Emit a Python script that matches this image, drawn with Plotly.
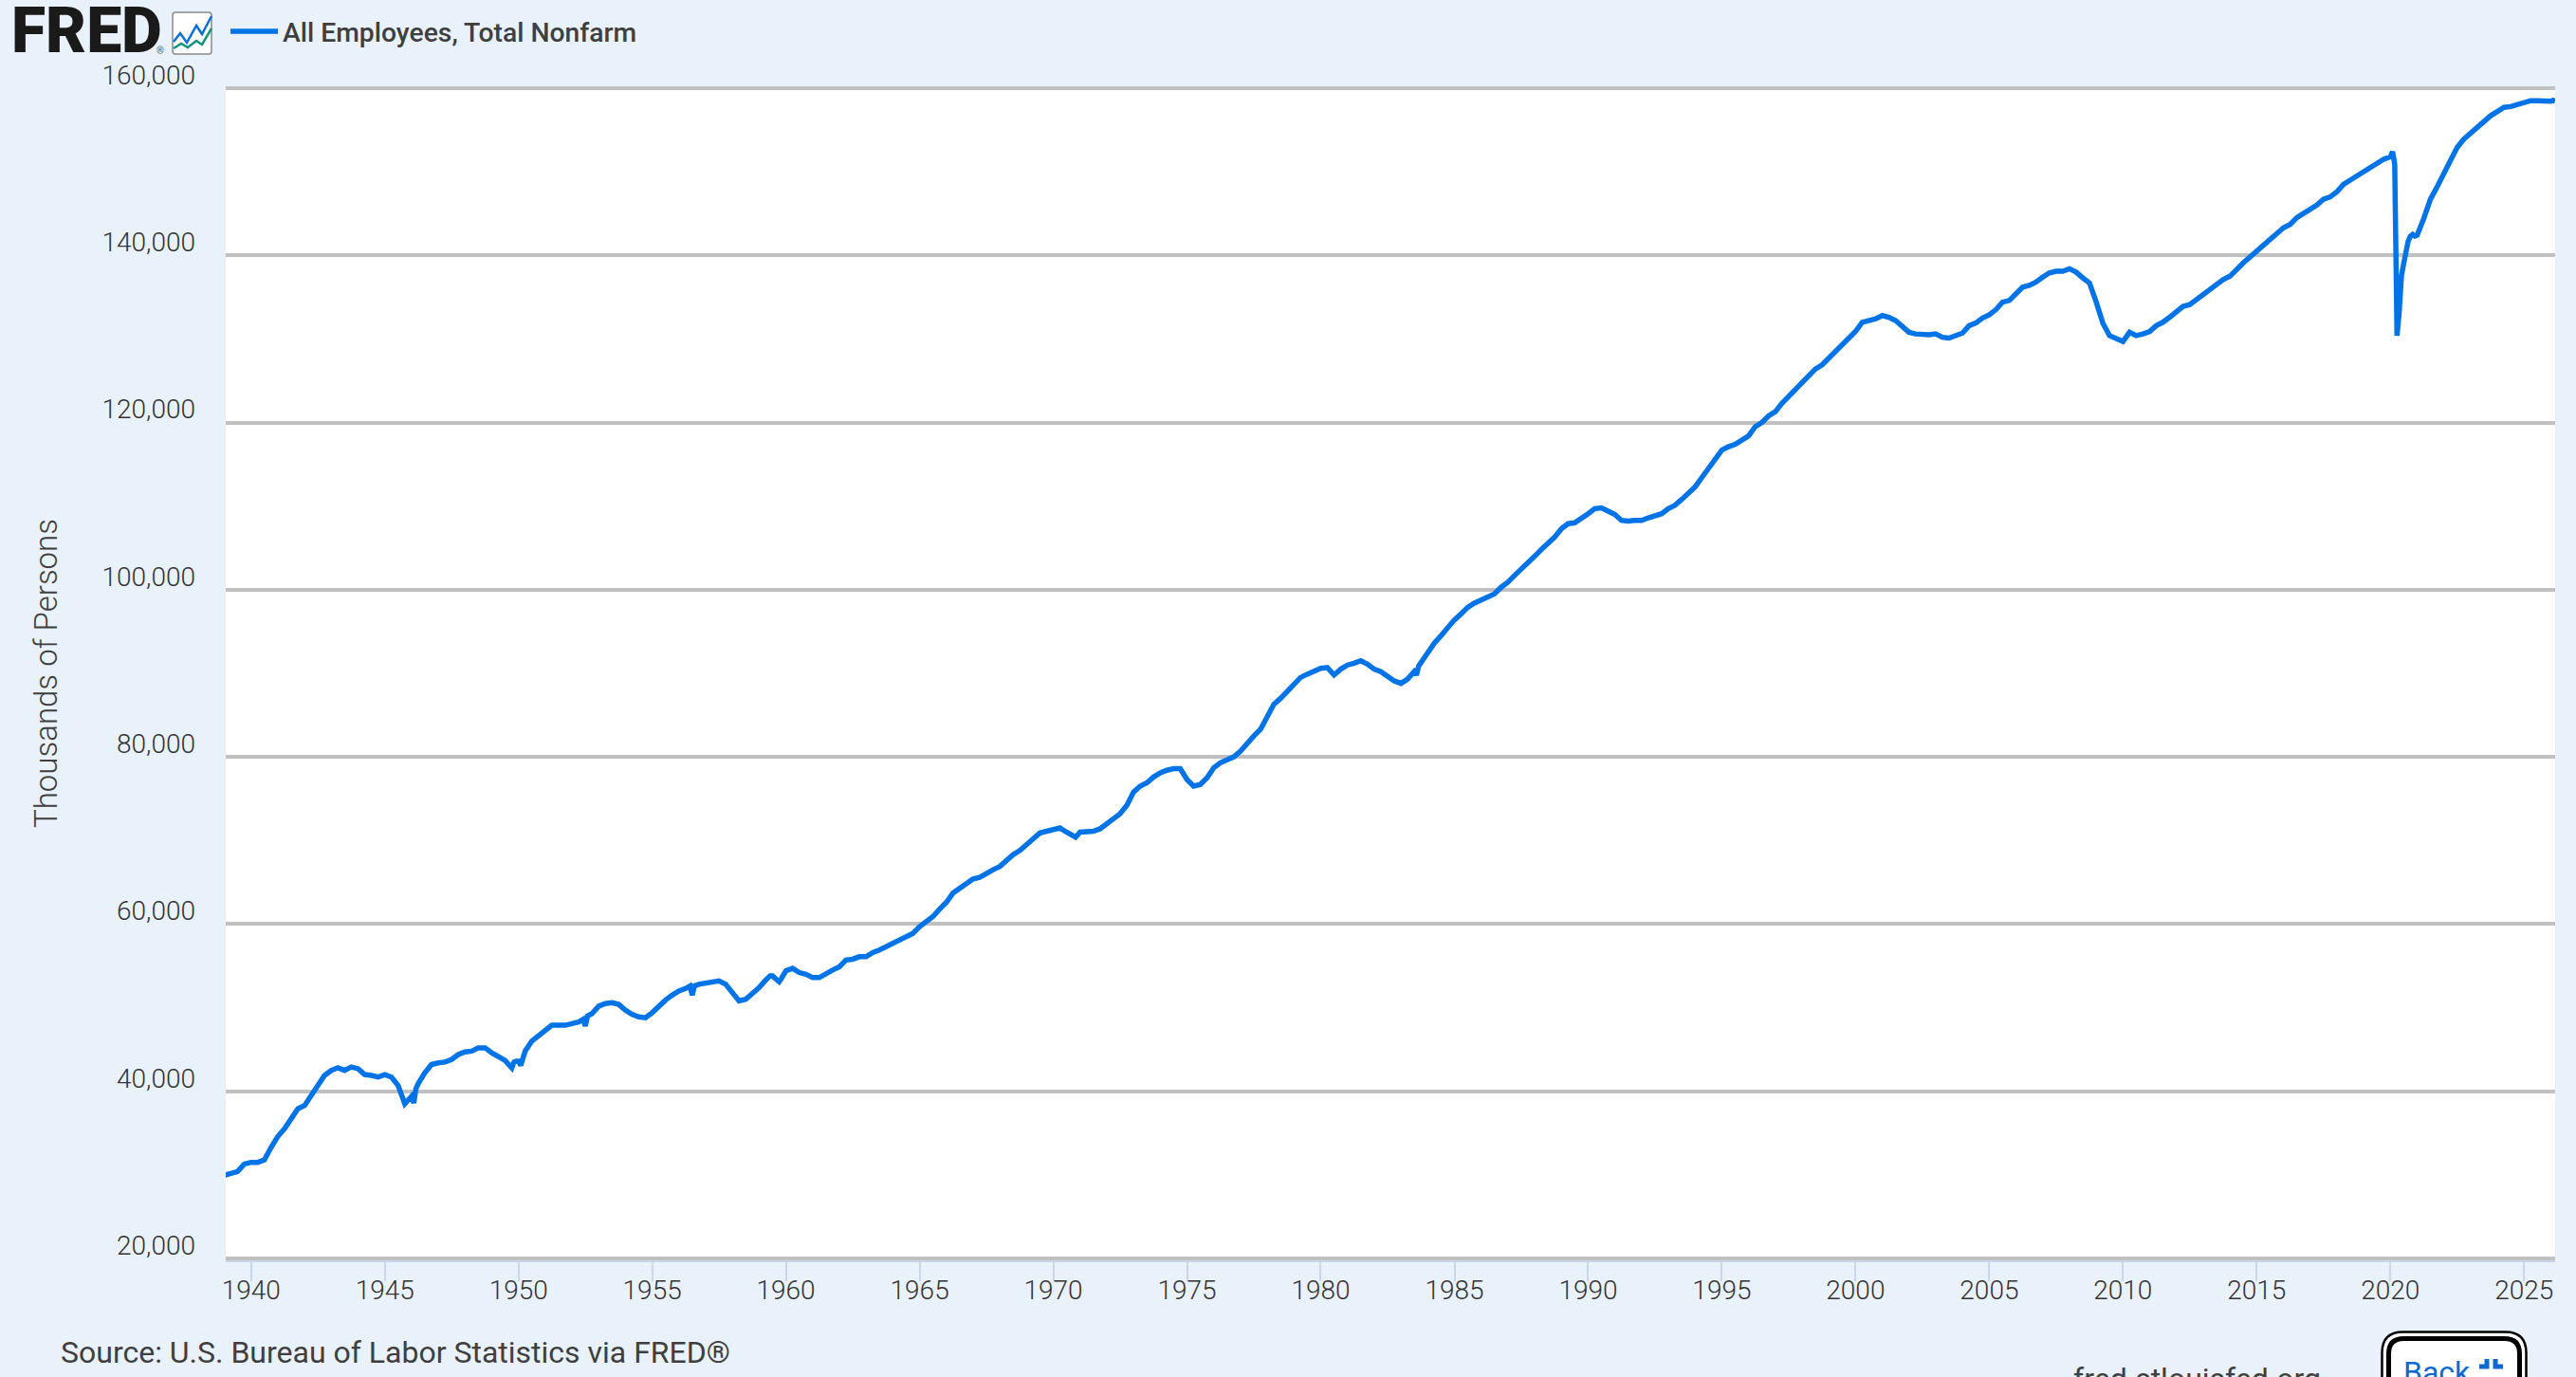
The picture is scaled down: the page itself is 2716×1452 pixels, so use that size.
import plotly.graph_objects as go

SERIES_NAME = "All Employees, Total Nonfarm"
Y_TITLE = "Thousands of Persons"
SOURCE = "Source: U.S. Bureau of Labor Statistics via FRED®"

first_year = 1939
# Thousands of persons, read at Jan, Apr, Jul, Oct of each year
quarterly_values = [
    29950, 30150, 30400, 31300,   # 1939
    31500, 31500, 31800, 33300,
    34600, 35500, 36700, 37900,
    38300, 39500, 40900, 41900,
    42500, 42800, 42500, 42900,
    42700, 42000, 41900, 41700,
    42000, 41700, 40700, 38500,
    39400, 40900, 42200, 43200,
    43400, 43500, 43800, 44400,
    44700, 44800, 45200, 45200,
    44600, 44100, 43700, 42800,   # 1949
    43600, 44800, 46000, 46700,
    47200, 47900, 47900, 47900,
    48100, 48300, 47800, 49300,
    50200, 50500, 50600, 50400,
    49700, 49200, 48900, 48800,
    49400, 50200, 50900, 51500,
    52000, 52300, 51500, 52800,
    52900, 53100, 53200, 52800,
    51900, 50800, 51000, 51700,
    52400, 53300, 53800, 53100,   # 1959
    54400, 54700, 54200, 54000,
    53600, 53600, 54100, 54500,
    54900, 55700, 55800, 56100,
    56100, 56600, 56900, 57300,
    57600, 58000, 58400, 58900,
    59700, 60300, 60900, 61800,
    62600, 63700, 64300, 64900,
    65400, 65600, 66100, 66500,
    66900, 67700, 68300, 68800,
    69600, 70200, 70900, 71100,   # 1969
    71300, 71500, 71000, 70600,
    71000, 71000, 71100, 71400,
    72000, 72700, 73200, 74200,
    75800, 76500, 76900, 77600,
    78100, 78400, 78600, 78600,
    77300, 76500, 76700, 77500,
    78700, 79300, 79600, 80000,
    80700, 81700, 82500, 83300,
    84800, 86300, 87000, 87900,
    88700, 89500, 89900, 90300,   # 1979
    90600, 90700, 89800, 90500,
    91000, 91200, 91500, 91100,
    90500, 90200, 89700, 89100,
    88800, 89300, 90200, 91300,
    92500, 93600, 94500, 95500,
    96400, 97100, 97900, 98400,
    98800, 99200, 99500, 100300,
    100900, 101700, 102400, 103100,
    104000, 104800, 105500, 106300,
    107300, 107900, 108000, 108500,   # 1989
    109100, 109700, 109800, 109400,
    109000, 108300, 108200, 108300,
    108300, 108600, 108800, 109100,
    109700, 110100, 110800, 111500,
    112300, 113400, 114500, 115500,
    116700, 117100, 117400, 117900,
    118400, 119500, 120000, 120800,
    121300, 122300, 123100, 124100,
    124900, 125500, 126400, 126900,
    127700, 128600, 129300, 130200,   # 1999
    130900, 132000, 132200, 132400,
    132800, 132600, 132200, 131400,
    130800, 130600, 130500, 130500,
    130600, 130200, 130100, 130400,
    130700, 131600, 131900, 132500,
    132900, 133500, 134400, 134600,
    135500, 136200, 136400, 136800,
    137400, 137900, 138100, 138100,
    138400, 138000, 137300, 136700,
    134400, 131900, 130400, 130000,   # 2009
    129700, 130800, 130400, 130600,
    130900, 131600, 132000, 132600,
    133300, 133900, 134100, 134700,
    135300, 136000, 136500, 137100,
    137500, 138400, 139100, 139800,
    140500, 141200, 141900, 142500,
    143300, 143700, 144500, 145000,
    145500, 146000, 146700, 147000,
    147600, 148500, 149000, 149500,
    149900, 150400, 150900, 151500,   # 2019
    151800, 130400, 139000, 142300,
    142400, 144400, 146700, 148200,
    149700, 151400, 152900, 153900,
    154600, 155400, 156100, 156700,
    157200, 157700, 157800, 158000,
    158300, 158500, 158500, 158400,
    158450,                            # 2026
]

# Single months that stand out from the quarterly reading (strikes, the 2020 drop)
extra_months = ["1945-09", "1946-02", "1946-03", "1949-11", "1949-12", "1950-02",
                "1952-06", "1952-08", "1956-06", "1956-08", "1959-06", "1959-11",
                "1970-11", "1983-08", "1983-09",
                "2020-02", "2020-03", "2020-05", "2020-06", "2020-08", "2020-09",
                "2020-11", "2020-12", "2026-02", "2026-03"]
extra_values = [39400, 38600, 40300, 43500, 43600, 43100,
                48600, 49000, 52600, 52600, 53800, 53500,
                70400, 89800, 90900,
                152400, 150900, 133200, 137600, 140800, 141700,
                142500, 142300, 158550, 158400]

y_ticks = [20000, 40000, 60000, 80000, 100000, 120000, 140000, 160000]

quarter_months = [f"{first_year + i // 4}-{[1, 4, 7, 10][i % 4]:02d}" for i in range(len(quarterly_values))]
points = sorted(list(zip(quarter_months, quarterly_values)) + list(zip(extra_months, extra_values)))
months = [p[0] + "-01" for p in points]
values = [p[1] for p in points]

W, H = 2716, 1452
L, R, T, B = 238, 2694, 91, 1329
PAPER = "#e9f1fb"
TEXT = "#3f3f3f"
TICK_TEXT = "#333333"
BLUE = "#0073e6"


def px(x):
    return (x - L) / (R - L)


def py(y):
    return (B - y) / (B - T)


def path(points_, close=False):
    s = "M " + " L ".join(f"{px(a):.5f},{py(b):.5f}" for a, b in points_)
    return s + (" Z" if close else "")


def rounded(x0, y0, x1, y1, r):
    return (f"M {px(x0 + r):.5f},{py(y0):.5f} L {px(x1 - r):.5f},{py(y0):.5f} "
            f"Q {px(x1):.5f},{py(y0):.5f} {px(x1):.5f},{py(y0 + r):.5f} "
            f"L {px(x1):.5f},{py(y1 - r):.5f} Q {px(x1):.5f},{py(y1):.5f} {px(x1 - r):.5f},{py(y1):.5f} "
            f"L {px(x0 + r):.5f},{py(y1):.5f} Q {px(x0):.5f},{py(y1):.5f} {px(x0):.5f},{py(y1 - r):.5f} "
            f"L {px(x0):.5f},{py(y0 + r):.5f} Q {px(x0):.5f},{py(y0):.5f} {px(x0 + r):.5f},{py(y0):.5f} Z")


def shape_path(d, line=None, width=0, fill=None):
    return dict(type="path", xref="paper", yref="paper", path=d,
                line=dict(color=line or "rgba(0,0,0,0)", width=width),
                fillcolor=fill or "rgba(0,0,0,0)", layer="above")


def note(text, x, y, size, color=TEXT, xanchor="left", weight=400, family="Roboto"):
    return dict(text=text, x=px(x), y=py(y), xref="paper", yref="paper", xanchor=xanchor,
                yanchor="middle", showarrow=False, align="left",
                font=dict(family=family, size=size, color=color, weight=weight))


shapes = [
    # FRED graph icon
    shape_path(rounded(182, 13, 223, 57, 3), line="#8a8a8a", width=1.5, fill="#ffffff"),
    shape_path(path([(183, 44), (190, 35), (197, 45), (207, 27), (213, 36), (223, 17)]), line="#0a6fd6", width=2.5),
    shape_path(path([(183, 51), (191, 46), (198, 50), (207, 43), (213, 47), (223, 30)]), line="#12947f", width=2.5),
    # Back button
    shape_path(rounded(2511.5, 1404.5, 2663.5, 1490, 22), line="#000000", width=2.5, fill="#ffffff"),
    shape_path(rounded(2518.5, 1411.5, 2656.5, 1490, 16), line="#000000", width=5, fill="#ffffff"),
    shape_path(path([(2622, 1433), (2622, 1441), (2614, 1441)]), line="#0a6ad0", width=5),
    shape_path(path([(2631, 1433), (2631, 1441), (2639, 1441)]), line="#0a6ad0", width=5),
]

annotations = [
    note("FRED", 10, 33, 66, color="#1a1a1a", weight=900),
    note("®", 163, 54, 10, color="#555555"),
    note(SOURCE, 62, 1426, 32),
    note("fred.stlouisfed.org", 2184, 1454, 32),
    note("Back", 2532, 1447, 32, color="#0a6ad0"),
]

fig = go.Figure(go.Scatter(
    x=months, y=values, mode="lines", name=SERIES_NAME,
    line=dict(color=BLUE, width=5.5),
    hovertemplate="%{x|%b %Y}: %{y:,}<extra></extra>",
))

# Two pixels of padding keep the 20,000 and 160,000 gridlines inside the axis range
y_pad = 2 * 140000 / 1234

fig.update_layout(
    width=W, height=H,
    margin=dict(l=L, r=W - R, t=T, b=H - B, pad=0, autoexpand=False),
    paper_bgcolor=PAPER, plot_bgcolor="#ffffff",
    font=dict(family="Roboto", color=TEXT, size=28),
    showlegend=True,
    legend=dict(orientation="h", x=0.0, xanchor="left", y=py(33), yanchor="middle",
                bgcolor="rgba(0,0,0,0)", itemwidth=50,
                font=dict(family="Roboto", size=28.3, color=TEXT, weight=500)),
    shapes=shapes, annotations=annotations,
    xaxis=dict(
        type="date", range=["1939-01-20", "2026-03-01"], tick0="1940-01-01", dtick="M60",
        tickformat="%Y", ticks="outside", ticklen=20, tickwidth=2, tickcolor="#ccd6eb",
        showgrid=False, showline=True, linecolor="#ccd6eb", linewidth=2, zeroline=False,
        ticklabelstandoff=-15,
        tickfont=dict(family="Roboto", size=28, color=TICK_TEXT, weight=300),
    ),
    yaxis=dict(
        range=[20000 - y_pad, 160000 + y_pad], tickmode="array", tickvals=y_ticks, tickformat=",d",
        showgrid=True, gridcolor="#c0c0c0", gridwidth=4, zeroline=False, showline=False,
        ticks="", ticklabelstandoff=31, ticklabelshift=-14,
        tickfont=dict(family="Roboto", size=28, color=TICK_TEXT, weight=300),
        title=dict(text=Y_TITLE, font=dict(family="Roboto", size=33, color=TEXT, weight=300), standoff=36),
    ),
)

fig.write_html("out.html", config=dict(displayModeBar=False),
               post_script="document.body.style.margin='0';document.body.style.overflow='hidden';")
